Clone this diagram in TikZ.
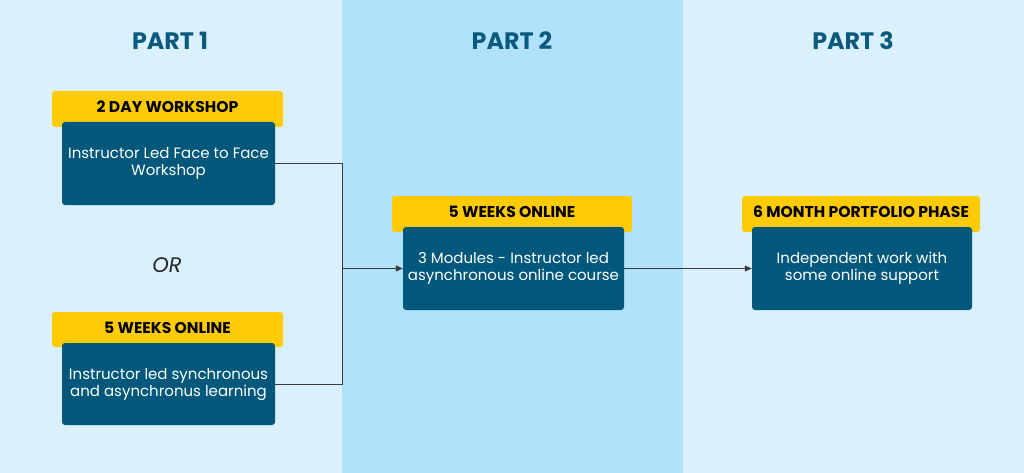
\documentclass[tikz,border=0pt]{standalone}
\usepackage{fontspec}
\setmainfont{Poppins}
\usetikzlibrary{arrows.meta}
\definecolor{bglight}{HTML}{DAF1FD}
\definecolor{bgmid}{HTML}{B0E3FB}
\definecolor{boxblue}{HTML}{02587A}
\definecolor{boxyellow}{HTML}{FFCB05}
\definecolor{titleblue}{HTML}{0B5A7E}
\definecolor{linegray}{HTML}{3A3A3A}
\tikzset{
  ybox/.style={fill=boxyellow, rounded corners=3pt, inner sep=0pt},
  yhead/.style={font=\fontsize{15.6}{18}\selectfont\bfseries, text=black, inner sep=0pt},
  bbox/.style={fill=boxblue, rounded corners=3pt, inner sep=0pt, text=white, align=center,
    font=\fontsize{15}{17}\selectfont},
  parttitle/.style={font=\fontsize{23.8}{26}\selectfont\bfseries, text=titleblue, inner sep=0pt},
  conn/.style={draw=linegray, line width=1pt},
  arr/.style={conn, -{Triangle[length=7pt,width=6pt]}}
}
\begin{document}
\begin{tikzpicture}[x=1pt,y=-1pt]
\useasboundingbox (0,0) rectangle (1024,473);
\fill[bglight] (0,0) rectangle (342,473);
\fill[bgmid] (342,0) rectangle (683,473);
\fill[bglight] (683,0) rectangle (1024,473);

\node[parttitle] (p1) at (170,41) {PART 1};
\node[parttitle] (p2) at (512,41) {PART 2};
\node[parttitle] (p3) at (853,41) {PART 3};

% Part 1 top
\node[ybox, minimum width=231pt, minimum height=36pt] (y1) at (167.5,109) {};
\node[yhead] (t1) at (167.5,106.5) {2 DAY WORKSHOP};
\node[bbox, minimum width=213pt, minimum height=83pt] (b1) at (168.5,163.5) {Instructor Led Face to Face\\Workshop};

\node[font=\fontsize{21}{24}\selectfont\itshape, text=black!85, inner sep=0pt] (or) at (167,265.5) {OR};

% Part 1 bottom
\node[ybox, minimum width=231pt, minimum height=35pt] (y2) at (167.5,329.5) {};
\node[yhead] (t2) at (167.5,327.5) {5 WEEKS ONLINE};
\node[bbox, minimum width=213pt, minimum height=82pt] (b2) at (168.5,384) {Instructor led synchronous\\and asynchronus learning};

% Part 2
\node[ybox, minimum width=240pt, minimum height=36pt] (y3) at (512,214) {};
\node[yhead] (t3) at (512,211.5) {5 WEEKS ONLINE};
\node[bbox, minimum width=221pt, minimum height=83pt] (b3) at (513.5,268.5) {3 Modules - Instructor led\\asynchronous online course};

% Part 3
\node[ybox, minimum width=238pt, minimum height=36pt] (y4) at (861,214) {};
\node[yhead] (t4) at (861,211.5) {6 MONTH PORTFOLIO PHASE};
\node[bbox, minimum width=220pt, minimum height=83pt] (b4) at (862,268.5) {Independent work with\\some online support};

\coordinate (j) at (342,268.5);
\draw[conn] (b1.east) -| (j);
\draw[conn] (b2.east) -| (j);
\draw[arr] (j) -- (b3.west);
\draw[arr] (b3.east) -- (b4.west);
\end{tikzpicture}
\end{document}
